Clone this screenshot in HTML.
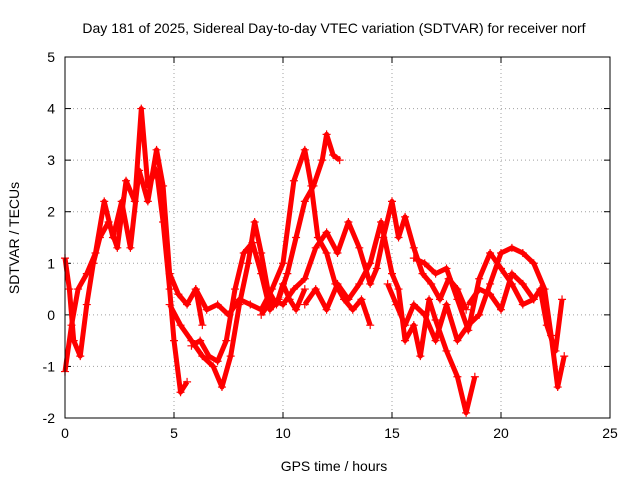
<!DOCTYPE html>
<html><head><meta charset="utf-8"><style>
body{margin:0;background:#fff;}
svg{display:block;font-family:"Liberation Sans",sans-serif;}
</style></head><body>
<svg id="chart" width="640" height="480">
<text x="334" y="33" text-anchor="middle" font-size="14">Day 181 of 2025, Sidereal Day-to-day VTEC variation (SDTVAR) for receiver norf</text>
<text x="334" y="471" text-anchor="middle" font-size="14">GPS time / hours</text>
<text transform="translate(19,238) rotate(-90)" text-anchor="middle" font-size="14">SDTVAR / TECUs</text>
<g id="grid"></g><g id="ticks"></g><g id="series"></g>
<rect x="65" y="57" width="545" height="361" fill="none" stroke="#000"/>
</svg>
<script>
const xTicks=[0,5,10,15,20,25];
const yTicks=[-2,-1,0,1,2,3,4,5];
const s1=[[0,1.1],[0.2,0.5],[0.4,-0.5],[0.7,-0.8],[1,0.2],[1.3,1],[1.6,1.5],[2,1.8],[2.4,1.3],[2.8,2.6],[3.2,2.2],[3.5,4],[3.8,2.5],[4.2,2.8],[4.5,1.8],[4.8,0.5],[5,-0.5],[5.3,-1.5],[5.6,-1.3]];
const s2=[[0,-1.1],[0.3,-0.2],[0.6,0.5],[1,0.8],[1.4,1.2],[1.8,2.2],[2.2,1.5],[2.6,2.2],[3,1.3],[3.4,2.8],[3.8,2.2],[4.2,3.2],[4.5,2.5],[4.8,0.8],[5.2,0.4],[5.6,0.2],[6,0.5],[6.3,-0.2]];
const s3=[[4.8,0.2],[5.3,-0.2],[5.8,-0.5],[6.3,-0.8],[6.8,-1],[7.2,-1.4],[7.6,-0.8],[8,0.2],[8.4,1],[8.7,1.8],[9,1.2],[9.3,0.5],[9.7,0.2],[10,0.6],[10.3,0.3],[10.6,0.1],[11,0.5]];
const s4=[[5.8,-0.6],[6.2,-0.5],[6.6,-0.8],[7,-0.9],[7.4,-0.5],[7.8,0.5],[8.2,1.2],[8.6,1.4],[9,0.8],[9.4,0.1],[9.8,0.3],[10.2,0.8],[10.6,1.5],[11,2.2],[11.4,2.5],[11.8,3],[12,3.5],[12.3,3.1],[12.6,3]];
const s5=[[6,0.5],[6.5,0.1],[7,0.2],[7.5,0],[8,0.3],[8.5,0.2],[9,0.1],[9.5,0.5],[10,1],[10.5,2.6],[11,3.2],[11.3,2.5],[11.6,1.5],[12,1.2],[12.4,0.6],[12.8,0.3],[13.2,0.1],[13.6,0.3],[14,-0.2]];
const s6=[[9,0],[9.5,0.3],[10,0.2],[10.5,0.5],[11,0.7],[11.5,1.3],[12,1.6],[12.5,1.2],[13,1.8],[13.5,1.3],[14,0.6],[14.3,0.9],[14.6,1.5],[15,2.2],[15.3,1.5],[15.6,1.9],[16,1.3],[16.4,0.8],[16.8,0.6],[17.2,0.3],[17.6,0.7],[18,0.5],[18.4,0.1]];
const s7=[[11,0.2],[11.5,0.5],[12,0.1],[12.5,0.6],[13,0.3],[13.5,0.6],[14,1],[14.5,1.8],[15,0.8],[15.3,0.5],[15.6,-0.5],[16,-0.2],[16.3,-0.8],[16.7,0.3],[17,-0.1],[17.5,-0.7],[18,-1.2],[18.4,-1.9],[18.8,-1.2]];
const s8=[[14.8,0.6],[15.2,0.2],[15.6,-0.2],[16,0.2],[16.5,0],[17,-0.5],[17.5,0.2],[18,-0.5],[18.5,-0.2],[19,0],[19.5,0.6],[20,1.2],[20.5,1.3],[21,1.2],[21.5,1],[22,0.5],[22.3,-0.4],[22.6,-1.4],[22.9,-0.8]];
const s9=[[18.5,0.2],[19,0.5],[19.5,0.4],[20,0.1],[20.5,0.8],[21,0.6],[21.5,0.3],[21.8,0.5],[22.1,-0.2],[22.5,-0.7],[22.8,0.3]];
const s10=[[16,1.1],[16.5,1],[17,0.8],[17.5,0.9],[18,0.3],[18.5,-0.3],[19,0.7],[19.5,1.2],[20,0.9],[20.5,0.6],[21,0.2],[21.5,0.3]];
const allSeries=[s1,s2,s3,s4,s5,s6,s7,s8,s9,s10];

const X0=65,X1=610,Y0=418,Y1=57;
const xs=v=>X0+(v-0)/(25-0)*(X1-X0);
const ys=v=>Y0-(v+2)/(5+2)*(Y0-Y1);
const NS="http://www.w3.org/2000/svg";
function mk(t,a,p){const e=document.createElementNS(NS,t);for(const k in a)e.setAttribute(k,a[k]);p.appendChild(e);return e;}
const grid=document.getElementById('grid'),ticks=document.getElementById('ticks'),ser=document.getElementById('series');
xTicks.forEach(v=>{const x=xs(v);
 if(v>0&&v<25){const g=mk('line',{x1:x,x2:x,y1:Y0,y2:Y1,stroke:'#a0a0a0','stroke-dasharray':'1,3'},grid);
 
 }
 mk('line',{x1:x,x2:x,y1:Y0,y2:Y0-6,stroke:'#000'},ticks);mk('line',{x1:x,x2:x,y1:Y1,y2:Y1+6,stroke:'#000'},ticks);
 const t=mk('text',{x:x,y:Y0+20,'text-anchor':'middle','font-size':14},ticks);t.textContent=v;
 
 });
yTicks.forEach(v=>{const y=ys(v);
 if(v>-2&&v<5){const g=mk('line',{x1:X0,x2:X1,y1:y,y2:y,stroke:'#a0a0a0','stroke-dasharray':'1,3'},grid);
 
 }
 mk('line',{x1:X0,x2:X0+6,y1:y,y2:y,stroke:'#000'},ticks);mk('line',{x1:X1,x2:X1-6,y1:y,y2:y,stroke:'#000'},ticks);
 const t=mk('text',{x:X0-10,y:y+5,'text-anchor':'end','font-size':14},ticks);t.textContent=v;
 
 });
allSeries.forEach((s,i)=>{
 const g=mk('g',{},ser);
 
 
 mk('polyline',{points:s.map(p=>xs(p[0])+','+ys(p[1])).join(' '),fill:'none',stroke:'#ff0000','stroke-width':5,'stroke-linejoin':'round'},g);
 s.forEach(p=>{const x=xs(p[0]),y=ys(p[1]);
  const m=mk('path',{d:`M${x-4},${y}H${x+4}M${x},${y-4}V${y+4}`,stroke:'#ff0000','stroke-width':1.2},g);
  
  });
});
</script>
</body></html>
